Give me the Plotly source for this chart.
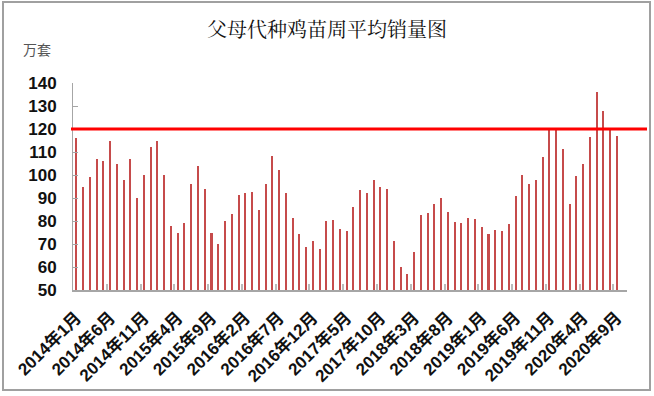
import plotly.graph_objects as go

# ---- data (万套), monthly 2014-01 .. 2020-09 ----
values = [116, 95, 99, 107, 106, 115, 105, 98, 107, 90, 100, 112,
          115, 100, 78, 75, 79, 96, 104, 94, 75, 70, 80, 83,
          91.5, 92, 92.5, 85, 96.3, 108.4, 102, 92, 81.3, 74.5, 68.5, 71.5,
          67.7, 80, 80.6, 76.6, 75.8, 86, 93.4, 92.2, 97.9, 95, 93.8, 71.4,
          60.2, 56.8, 66.4, 82.5, 83.5, 87.3, 89.9, 83.9, 79.7, 79, 81.3, 81,
          77.5, 74.2, 76.3, 75.8, 78.7, 91, 100, 96.3, 97.9, 107.9, 120, 120,
          111.2, 87.3, 99.6, 104.6, 116.4, 136.2, 128, 120, 116.8]
months = [f"{2014 + i // 12}年{i % 12 + 1}月" for i in range(len(values))]
tick_labels = ["2014年1月", "2014年6月", "2014年11月", "2015年4月", "2015年9月",
               "2016年2月", "2016年7月", "2016年12月", "2017年5月", "2017年10月",
               "2018年3月", "2018年8月", "2019年1月", "2019年6月", "2019年11月",
               "2020年4月", "2020年9月"]
ref_level = 120
y_ticks = [50, 60, 70, 80, 90, 100, 110, 120, 130, 140]

x_idx = list(range(len(values)))
label_pos = [months.index(t) for t in tick_labels]
boundary_pos = [p - 0.5 for p in label_pos[1:]]

W, H = 654, 396
L, R, T, B = 73, 27, 83, 106
pw, ph = W - L - R, H - T - B


def px(xp):
    return (xp - L) / pw


def py(yp):
    return (H - B - yp) / ph


font_family = "Liberation Sans, Arial, Noto Sans CJK SC, sans-serif"

fig = go.Figure()
fig.add_trace(go.Bar(
    x=x_idx, y=values, width=0.3,
    marker=dict(color="#C64B4B", line=dict(width=0)),
    hovertext=months,
))

fig.update_layout(
    width=W, height=H,
    margin=dict(l=L, r=R, t=T, b=B),
    paper_bgcolor="white", plot_bgcolor="white",
    showlegend=False,
    title=dict(text="父母代种鸡苗周平均销量图", x=0.5, xanchor="center",
               y=1 - 30 / H, yanchor="middle",
               font=dict(family="Noto Serif CJK SC, Noto Sans CJK SC", size=20, color="#111111")),
    bargap=0,
)

fig.update_xaxes(
    range=[-0.5, 81.5], automargin=False,
    tickmode="array", tickvals=label_pos, ticktext=tick_labels,
    tickangle=-45, ticks="",
    tickfont=dict(family=font_family, size=17, color="#111111", weight="bold"),
    ticklabelstandoff=9,
    showline=True, linecolor="#A6A6A6", linewidth=2,
    showgrid=False, zeroline=False,
    minor=dict(tickvals=boundary_pos, ticks="inside", ticklen=6,
               tickwidth=2, tickcolor="#BBBBBB", showgrid=False),
)
fig.update_yaxes(
    range=[50, 140], automargin=False,
    tickmode="array", tickvals=y_ticks,
    ticks="inside", ticklen=5, tickcolor="#A6A6A6", tickwidth=1,
    tickfont=dict(family=font_family, size=17, color="#111111", weight="bold"),
    ticklabelstandoff=12,
    showline=True, linecolor="#A6A6A6", linewidth=1,
    showgrid=False, zeroline=False,
)

# reference line at 120
fig.add_shape(type="line", xref="paper", yref="y",
              x0=px(71), x1=px(647), y0=ref_level, y1=ref_level,
              line=dict(color="#FF0000", width=3))

# outer frame
fig.add_shape(type="rect", xref="paper", yref="paper",
              x0=px(3), x1=px(650), y0=py(390), y1=py(2),
              line=dict(color="#A0A0A0", width=2))

# unit label
fig.add_annotation(text="万套", xref="paper", yref="paper",
                   x=px(37), y=py(49), xanchor="center", yanchor="middle",
                   showarrow=False,
                   font=dict(family="Noto Sans CJK SC", size=14, color="#555555"))

fig.write_html("out.html",
               config={"displayModeBar": False},
               post_script="document.body.style.margin='0';document.body.style.overflow='hidden';")
